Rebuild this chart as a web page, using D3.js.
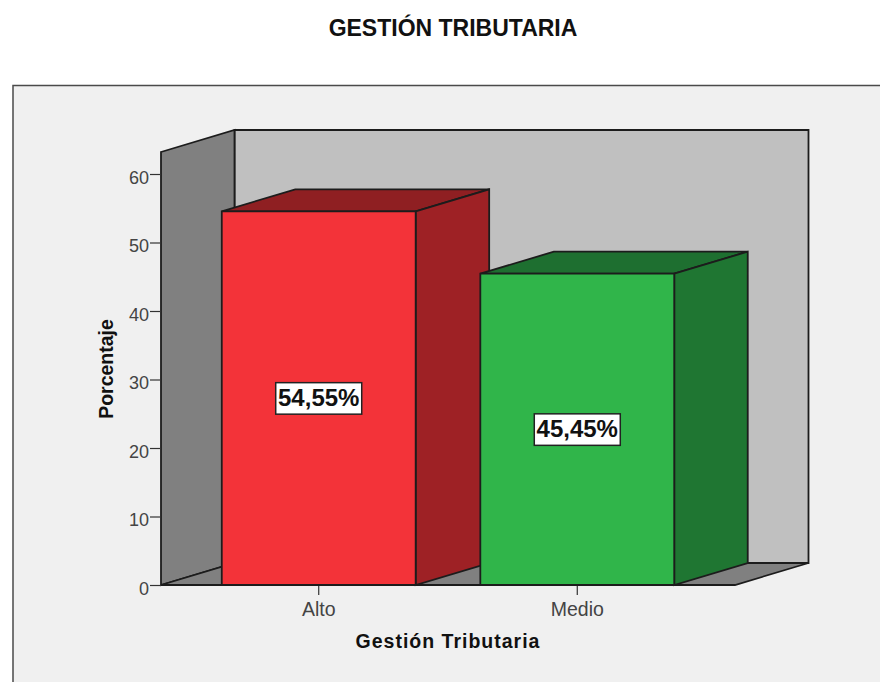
<!DOCTYPE html>
<html>
<head>
<meta charset="utf-8">
<script src="https://cdn.jsdelivr.net/npm/d3@7"></script>
<style>
html,body{margin:0;padding:0;background:#fff}
svg{display:block}
text{font-family:"Liberation Sans",Arial,sans-serif}
</style>
</head>
<body>
<script>
var categories=['Alto','Medio']
var values=[54.55,45.45]
var valueLabels=['54,55%','45,45%']
var yTicks=[0,10,20,30,40,50,60]
var frontColors=['#f33339','#30b54a']
var sideColors=['#9e2125','#1f7632']
var topColors=['#8f1f22','#1e6f30']

var WIDTH=880,HEIGHT=682
var depthX=73.5,depthY=22

var svg=d3.select('body').append('svg')
	.attr('width',WIDTH)
	.attr('height',HEIGHT)

var x=d3.scaleBand()
	.domain(categories)
	.range([161,735])
	.paddingInner(0.25)
	.paddingOuter(0.235)
var y=d3.scaleLinear()
	.domain([0,60])
	.range([585,174])

var wallTop=152
var y0=y(0),left=x.range()[0],right=x.range()[1]

function poly(points,fill,width,stroke){
	svg.append('polygon')
		.attr('points',points.map(function(p){return p.join(',')}).join(' '))
		.attr('fill',fill)
		.attr('stroke',stroke||'#1c1c1c')
		.attr('stroke-width',width||1.8)
		.attr('stroke-linejoin','miter')
}

// chart frame, open at the right and bottom
svg.append('rect').attr('x',13).attr('y',85.5).attr('width',WIDTH).attr('height',HEIGHT)
	.attr('fill','#f0f0f0').attr('stroke','#4a4a4a').attr('stroke-width',1.5)

svg.append('text').text('GESTIÓN TRIBUTARIA')
	.attr('x',453).attr('y',36)
	.attr('text-anchor','middle')
	.style('font-size','23px').style('font-weight','bold').attr('fill','#111')

// walls and floor
poly([[left+depthX,wallTop-depthY],[right+depthX,wallTop-depthY],[right+depthX,y0-depthY],[left+depthX,y0-depthY]],'#c0c0c0')
poly([[left,wallTop],[left+depthX,wallTop-depthY],[left+depthX,y0-depthY],[left,y0]],'#808080')
poly([[left,y0],[left+depthX,y0-depthY],[right+depthX,y0-depthY],[right,y0]],'#808080')

// y axis
var yAxis=svg.append('g')
	.attr('transform','translate('+left+',0)')
	.call(d3.axisLeft(y).tickValues(yTicks).tickSize(11).tickPadding(1).tickSizeOuter(0))
yAxis.select('.domain').remove()
yAxis.selectAll('line').attr('stroke','#333').attr('stroke-width',1.2)
yAxis.selectAll('text').style('font-size','18px').attr('fill','#444').attr('dy','0.5em')

// x axis
var xAxis=svg.append('g')
	.attr('transform','translate(0,'+y0+')')
	.call(d3.axisBottom(x).tickSize(10).tickPadding(7.5).tickSizeOuter(0))
xAxis.select('.domain').remove()
xAxis.selectAll('line').attr('stroke','#333').attr('stroke-width',1.2)
xAxis.selectAll('text').style('font-size','19.5px').attr('fill','#444')

// bars
categories.forEach(function(c,i){
	var x0=x(c),x1=x0+x.bandwidth(),t=y(values[i])
	poly([[x0,t],[x0+depthX,t-depthY],[x1+depthX,t-depthY],[x1,t]],topColors[i])
	poly([[x1,t],[x1+depthX,t-depthY],[x1+depthX,y0-depthY],[x1,y0]],sideColors[i])
	poly([[x0,t],[x1,t],[x1,y0],[x0,y0]],frontColors[i])

	var cx=(x0+x1)/2,cy=(t+y0)/2
	svg.append('rect')
		.attr('x',cx-43).attr('y',cy-15.5)
		.attr('width',86).attr('height',31.5)
		.attr('fill','#fff').attr('stroke','#222').attr('stroke-width',1.5)
	svg.append('text').text(valueLabels[i])
		.attr('x',cx).attr('y',cy+8)
		.attr('text-anchor','middle')
		.style('font-size','24px').style('font-weight','bold').attr('fill','#111')
})

svg.append('text').text('Gestión Tributaria')
	.attr('x',448).attr('y',648)
	.attr('text-anchor','middle')
	.style('font-size','19.5px').style('font-weight','bold').style('letter-spacing','1px').attr('fill','#111')

svg.append('text').text('Porcentaje')
	.attr('transform','translate(113,369) rotate(-90)')
	.attr('text-anchor','middle')
	.style('font-size','19.5px').style('font-weight','bold').attr('fill','#111')
</script>
</body>
</html>
